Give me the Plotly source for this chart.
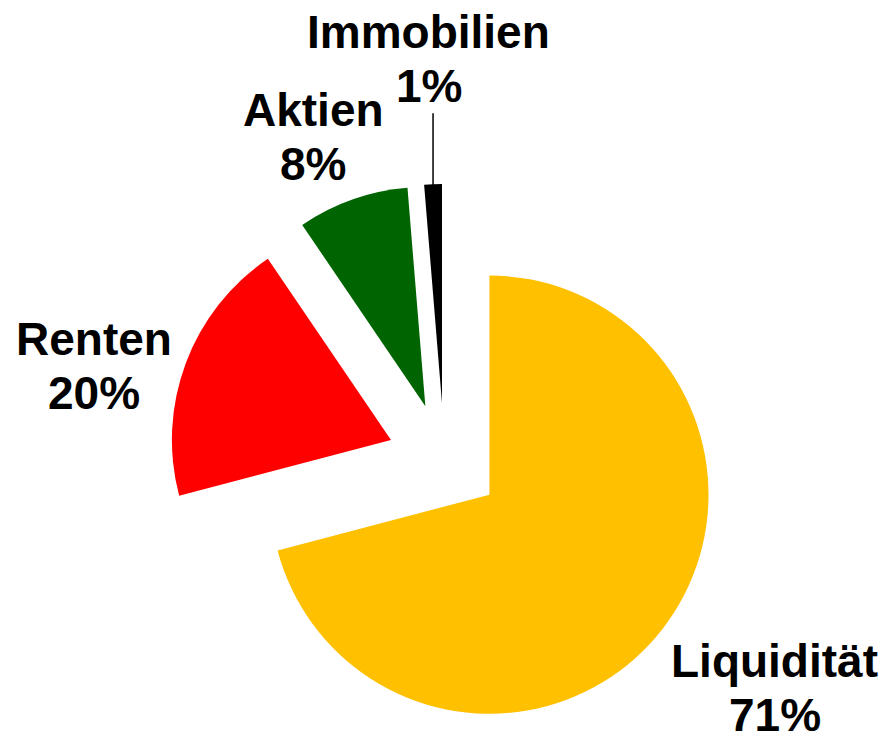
import math
import plotly.graph_objects as go

labels = ["Liquidität", "Renten", "Aktien", "Immobilien"]
values = [70.9, 19.6, 8.2, 1.3]
colours = ["#FFC000", "#FF0000", "#006400", "#000000"]
pull = 0.26

W, H = 887, 736
dom_x = [0.1807, 0.8031]
dom_y = [0.0, 0.772]

# label placement: distance from pie centre (in radii) and a small nudge in px
label_dist = [1.84, 1.64, 1.58, 1.83]
label_nudge = [(11, 18), (-14, -32), (-16, -4), (1, 0)]
line_gap = 27

fig = go.Figure(
    data=[
        go.Pie(
            labels=labels,
            values=values,
            pull=[pull] * len(values),
            sort=False,
            direction="clockwise",
            rotation=0,
            marker=dict(colors=colours, line=dict(width=0)),
            textinfo="none",
            domain=dict(x=dom_x, y=dom_y),
            hoverinfo="label+percent",
        )
    ]
)

# same geometry plotly uses for the pie
cx = W * sum(dom_x) / 2
cy = H * sum(dom_y) / 2
r = min(W * (dom_x[1] - dom_x[0]), H * (dom_y[1] - dom_y[0])) / 2 / (1 + pull)

total = sum(values)
font = dict(family="Arial, Liberation Sans", size=46, color="black", weight="bold")
annotations = []
shapes = []
cum = 0
for i, (lab, v) in enumerate(zip(labels, values)):
    mid = math.radians(360 * (cum + v / 2) / total)
    cum += v
    dx, dy = math.sin(mid), math.cos(mid)
    px = cx + label_dist[i] * r * dx + label_nudge[i][0]
    py = cy + label_dist[i] * r * dy + label_nudge[i][1]
    pct = f"{round(100 * v / total)}%"
    for txt, off in ((lab, line_gap), (pct, -line_gap)):
        annotations.append(
            dict(
                x=px / W, y=(py + off) / H, xref="paper", yref="paper",
                text=txt, showarrow=False, font=font,
                xanchor="center", yanchor="middle",
            )
        )
    if lab == "Immobilien":
        # leader line from the label down to the pulled slice
        ex = cx + (1 + pull) * r * dx
        ey = cy + (1 + pull) * r * dy
        shapes.append(
            dict(
                type="line", xref="paper", yref="paper",
                x0=ex / W, y0=(ey - 2) / H,
                x1=ex / W, y1=(py - 2 * line_gap) / H,
                line=dict(color="black", width=1.5),
            )
        )

fig.update_layout(
    width=W,
    height=H,
    showlegend=False,
    margin=dict(l=0, r=0, t=0, b=0),
    plot_bgcolor="white",
    paper_bgcolor="white",
    annotations=annotations,
    shapes=shapes,
)

fig.write_html("out.html")
